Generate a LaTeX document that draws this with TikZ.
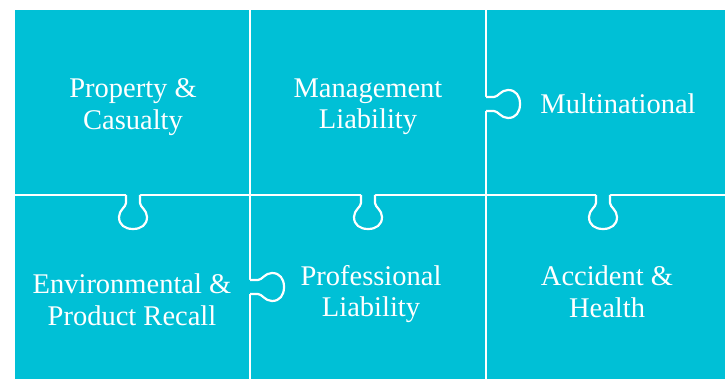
\documentclass[tikz,border=0pt]{standalone}
\usepackage{fontspec}
\setmainfont{Liberation Serif}
\definecolor{tealbg}{RGB}{0,192,214}
\tikzset{
  gridline/.style={white, line width=2.5pt},
  tabline/.style={white, line width=2.2pt},
  lbl/.style={text=white, align=center, font=\fontsize{28.5}{31.5}\selectfont, inner sep=0pt},
  puzzletab/.pic={
    \fill[tealbg] (-7,2) -- (-7,-8) .. controls (-7,-12) and (-14,-15) .. (-14,-22)
      .. controls (-14,-30) and (-8,-34) .. (0,-34)
      .. controls (8,-34) and (14,-30) .. (14,-22)
      .. controls (14,-15) and (7,-12) .. (7,-8) -- (7,2) -- cycle;
    \draw[tabline] (-7,0) -- (-7,-8) .. controls (-7,-12) and (-14,-15) .. (-14,-22)
      .. controls (-14,-30) and (-8,-34) .. (0,-34)
      .. controls (8,-34) and (14,-30) .. (14,-22)
      .. controls (14,-15) and (7,-12) .. (7,-8) -- (7,0);
  }
}
\begin{document}
\begin{tikzpicture}[x=1pt,y=1pt]
\useasboundingbox (0,0) rectangle (725,379);
\fill[tealbg] (15,0) rectangle (725,369);
% grid
\draw[gridline] (250,0) -- (250,369);
\draw[gridline] (486,0) -- (486,369);
\draw[gridline] (15,184) -- (725,184);
% tabs
\pic at (133,184) {puzzletab};
\pic at (368,184) {puzzletab};
\pic at (603,184) {puzzletab};
\pic[rotate=90] at (486,275) {puzzletab};
\pic[rotate=90] at (250,92) {puzzletab};
% labels
\node[lbl] (pc) at (133,272) {Property \&\\Casualty};
\node[lbl] (ml) at (368,272) {Management\\Liability};
\node[lbl] (mn) at (618,275) {Multinational};
\node[lbl] (ep) at (132,79) {Environmental \&\\Product Recall};
\node[lbl] (pl) at (371,85) {Professional\\Liability};
\node[lbl] (ah) at (607,87) {Accident \&\\Health};
\end{tikzpicture}
\end{document}
